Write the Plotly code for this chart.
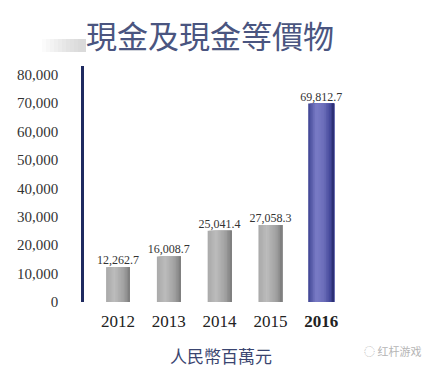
import plotly.graph_objects as go

# Cash and cash equivalents, RMB millions
years = ["2012", "2013", "2014", "2015", "2016"]
values = [12262.7, 16008.7, 25041.4, 27058.3, 69812.7]
y_ticks = [0, 10000, 20000, 30000, 40000, 50000, 60000, 70000, 80000]
y_tick_labels = ["0", "10,000", "20,000", "30,000", "40,000", "50,000", "60,000", "70,000", "80,000"]
x_tick_labels = ["2012", "2013", "2014", "2015", "<b>2016</b>"]

title_text = "現金及現金等價物"
unit_text = "人民幣百萬元"
mark_text = "红杆游戏"


def hex_to_rgb(h):
    h = h.lstrip("#")
    return tuple(int(h[i:i + 2], 16) for i in (0, 2, 4))


def blend(stops, t):
    # stops: list of (position, hex colour)
    for (p0, c0), (p1, c1) in zip(stops, stops[1:]):
        if p0 <= t <= p1:
            f = (t - p0) / (p1 - p0) if p1 > p0 else 0
            a, b = hex_to_rgb(c0), hex_to_rgb(c1)
            return "rgb(%d,%d,%d)" % tuple(round(a[i] + (b[i] - a[i]) * f) for i in range(3))
    return stops[-1][1]


gray_stops = [(0, "#a9a9a9"), (0.35, "#bcbcbc"), (0.75, "#a0a0a0"), (1, "#7c7c7c")]
blue_stops = [(0, "#3d4392"), (0.3, "#7a7cc6"), (0.6, "#6c6eba"), (0.85, "#45499a"), (1, "#262a6c")]

fig = go.Figure()


def add_cylinder(xs, ys, width, stops, slices=16):
    # each layer starts further right and runs to the bar's right edge,
    # so later layers paint over earlier ones without gaps between them
    step = width / slices
    for i in range(slices):
        t = (i + 0.5) / slices
        fig.add_trace(go.Bar(
            x=xs, y=ys, width=width - i * step, offset=-width / 2 + i * step,
            marker=dict(color=blend(stops, t), line=dict(width=0)),
            hoverinfo="skip", showlegend=False,
        ))


add_cylinder(years[:4], values[:4], 0.47, gray_stops)
add_cylinder(years[4:], values[4:], 0.51, blue_stops)

# value labels above each bar
fig.add_trace(go.Scatter(
    x=years, y=values, mode="text",
    text=[f"{v:,.1f}" for v in values],
    textposition="top center",
    textfont=dict(family="Liberation Serif", size=12, color="#333333"),
    hoverinfo="skip", showlegend=False,
))

fig.update_layout(
    width=440, height=376,
    margin=dict(l=84, r=0, t=66, b=74),
    paper_bgcolor="white", plot_bgcolor="white",
    barmode="overlay",
    xaxis=dict(
        type="category", range=[-0.67, 6.34],
        tickvals=years, ticktext=x_tick_labels,
        showline=False, showgrid=False, zeroline=False, ticks="",
        tickfont=dict(family="Liberation Serif", size=17, color="#222222"),
        ticklabelstandoff=7,
    ),
    yaxis=dict(
        range=[0, 83000],
        tickvals=y_ticks, ticktext=y_tick_labels,
        showline=True, linecolor="#1f2a60", linewidth=2.5,
        showgrid=False, zeroline=False, ticks="",
        tickfont=dict(family="Liberation Serif", size=15, color="#333333"),
        ticklabelstandoff=20,
    ),
    font=dict(family="Liberation Serif"),
)

# soft grey streak to the left of the title, fading in towards it
for i in range(10):
    x0 = 42 + i * 4
    fig.add_shape(type="rect", xref="paper", yref="paper",
                  x0=(x0 - 84) / 356, x1=(86 - 84) / 356,
                  y0=(302 - 52) / 236, y1=(302 - 39) / 236,
                  line=dict(width=0), fillcolor="rgba(140,140,140,0.035)", layer="below")

fig.add_annotation(
    text=title_text, xref="paper", yref="paper",
    x=(210 - 84) / 356, y=(302 - 35) / 236, xanchor="center", yanchor="middle",
    showarrow=False,
    font=dict(family="Noto Sans CJK TC", size=31, color="#4a5580"),
)
fig.add_annotation(
    text=unit_text, xref="paper", yref="paper",
    x=(221 - 84) / 356, y=(302 - 355) / 236, xanchor="center", yanchor="middle",
    showarrow=False,
    font=dict(family="Noto Sans CJK TC", size=17, color="#3a4570"),
)
fig.add_annotation(
    text="◌ " + mark_text, xref="paper", yref="paper",
    x=(392 - 84) / 356, y=(302 - 351) / 236, xanchor="center", yanchor="middle",
    showarrow=False,
    font=dict(family="Noto Sans CJK SC", size=11, color="#b5b5b5"),
)

fig.write_html("out.html")
